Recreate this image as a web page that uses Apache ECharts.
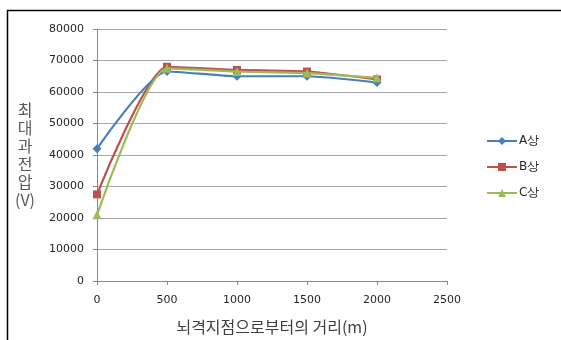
<!DOCTYPE html>
<html>
<head>
<meta charset="utf-8">
<script src="https://cdn.jsdelivr.net/npm/echarts@6/dist/echarts.min.js"></script>
<style>
  html, body { margin: 0; padding: 0; background: #fff; }
  #chart { width: 561px; height: 340px; }
</style>
</head>
<body>
<div id="chart"></div>
<script>
// Distance from the lightning strike point (m)
const distances = [0, 500, 1000, 1500, 2000];
// Maximum overvoltage per phase (V)
const phaseA = [42000, 66500, 65000, 65000, 63000];
const phaseB = [27500, 68000, 67000, 66500, 64000];
const phaseC = [21000, 67500, 66500, 66000, 64500];
const seriesNames = ['A상', 'B상', 'C상'];
const xTicks = { min: 0, max: 2500, step: 500 };
const yTicks = { min: 0, max: 80000, step: 10000 };

const pair = (vals) => distances.map((d, i) => [d, vals[i]]);

const tickFont = { fontFamily: 'DejaVu Sans', fontSize: 11, color: '#262626', formatter: (v) => String(v) };

const chart = echarts.init(document.getElementById('chart'), null, { renderer: 'canvas' });
chart.setOption({
  animation: false,
  backgroundColor: '#fff',
  grid: { left: 97, right: 114, top: 29, bottom: 57 },
  graphic: [{
    type: 'rect',
    left: 5, top: 8,
    shape: { width: 700, height: 500 },
    style: { fill: 'none', stroke: '#000', lineWidth: 1.5 },
    silent: true
  }],
  legend: {
    orient: 'vertical',
    left: 481, top: 130,
    itemWidth: 30, itemHeight: 10, itemGap: 14,
    textStyle: { fontFamily: 'DejaVu Sans', fontSize: 12, color: '#262626', padding: [0, 0, 0, -3] },
    data: seriesNames
  },
  xAxis: {
    type: 'value',
    min: xTicks.min, max: xTicks.max, interval: xTicks.step,
    name: '뇌격지점으로부터의 거리(m)',
    nameLocation: 'middle', nameGap: 38,
    nameTextStyle: { fontFamily: 'Noto Sans CJK KR', fontSize: 16, color: '#404040' },
    axisLine: { show: true, lineStyle: { color: '#888', width: 1 } },
    axisTick: { show: true, inside: false, length: 4, lineStyle: { color: '#888' } },
    axisLabel: Object.assign({ margin: 14 }, tickFont),
    splitLine: { show: false }
  },
  yAxis: {
    type: 'value',
    min: yTicks.min, max: yTicks.max, interval: yTicks.step,
    name: '최\n대\n과\n전\n압\n(V)',
    nameLocation: 'middle', nameRotate: 0, nameGap: 72,
    nameTextStyle: { fontFamily: 'Noto Sans CJK KR', fontSize: 16, lineHeight: 18, color: '#595959', align: 'center' },
    axisLine: { show: true, lineStyle: { color: '#888', width: 1 } },
    axisTick: { show: true, inside: false, length: 4, lineStyle: { color: '#888' } },
    axisLabel: Object.assign({ margin: 13 }, tickFont),
    splitLine: { show: true, lineStyle: { color: '#a6a6a6', width: 1 } }
  },
  series: [
    {
      name: seriesNames[0], type: 'line', smooth: 0.2,
      data: pair(phaseA), symbol: 'diamond', symbolSize: 9,
      itemStyle: { color: '#4a7ebb' }, lineStyle: { color: '#4a7ebb', width: 2.2 }, z: 3
    },
    {
      name: seriesNames[1], type: 'line', smooth: 0.2,
      data: pair(phaseB), symbol: 'rect', symbolSize: 8,
      itemStyle: { color: '#c0504d' }, lineStyle: { color: '#c0504d', width: 2.2 }, z: 2
    },
    {
      name: seriesNames[2], type: 'line', smooth: 0.2,
      data: pair(phaseC), symbol: 'triangle', symbolSize: 9,
      itemStyle: { color: '#9bbb59' }, lineStyle: { color: '#9bbb59', width: 2.2 }, z: 4
    }
  ]
});
</script>
</body>
</html>
